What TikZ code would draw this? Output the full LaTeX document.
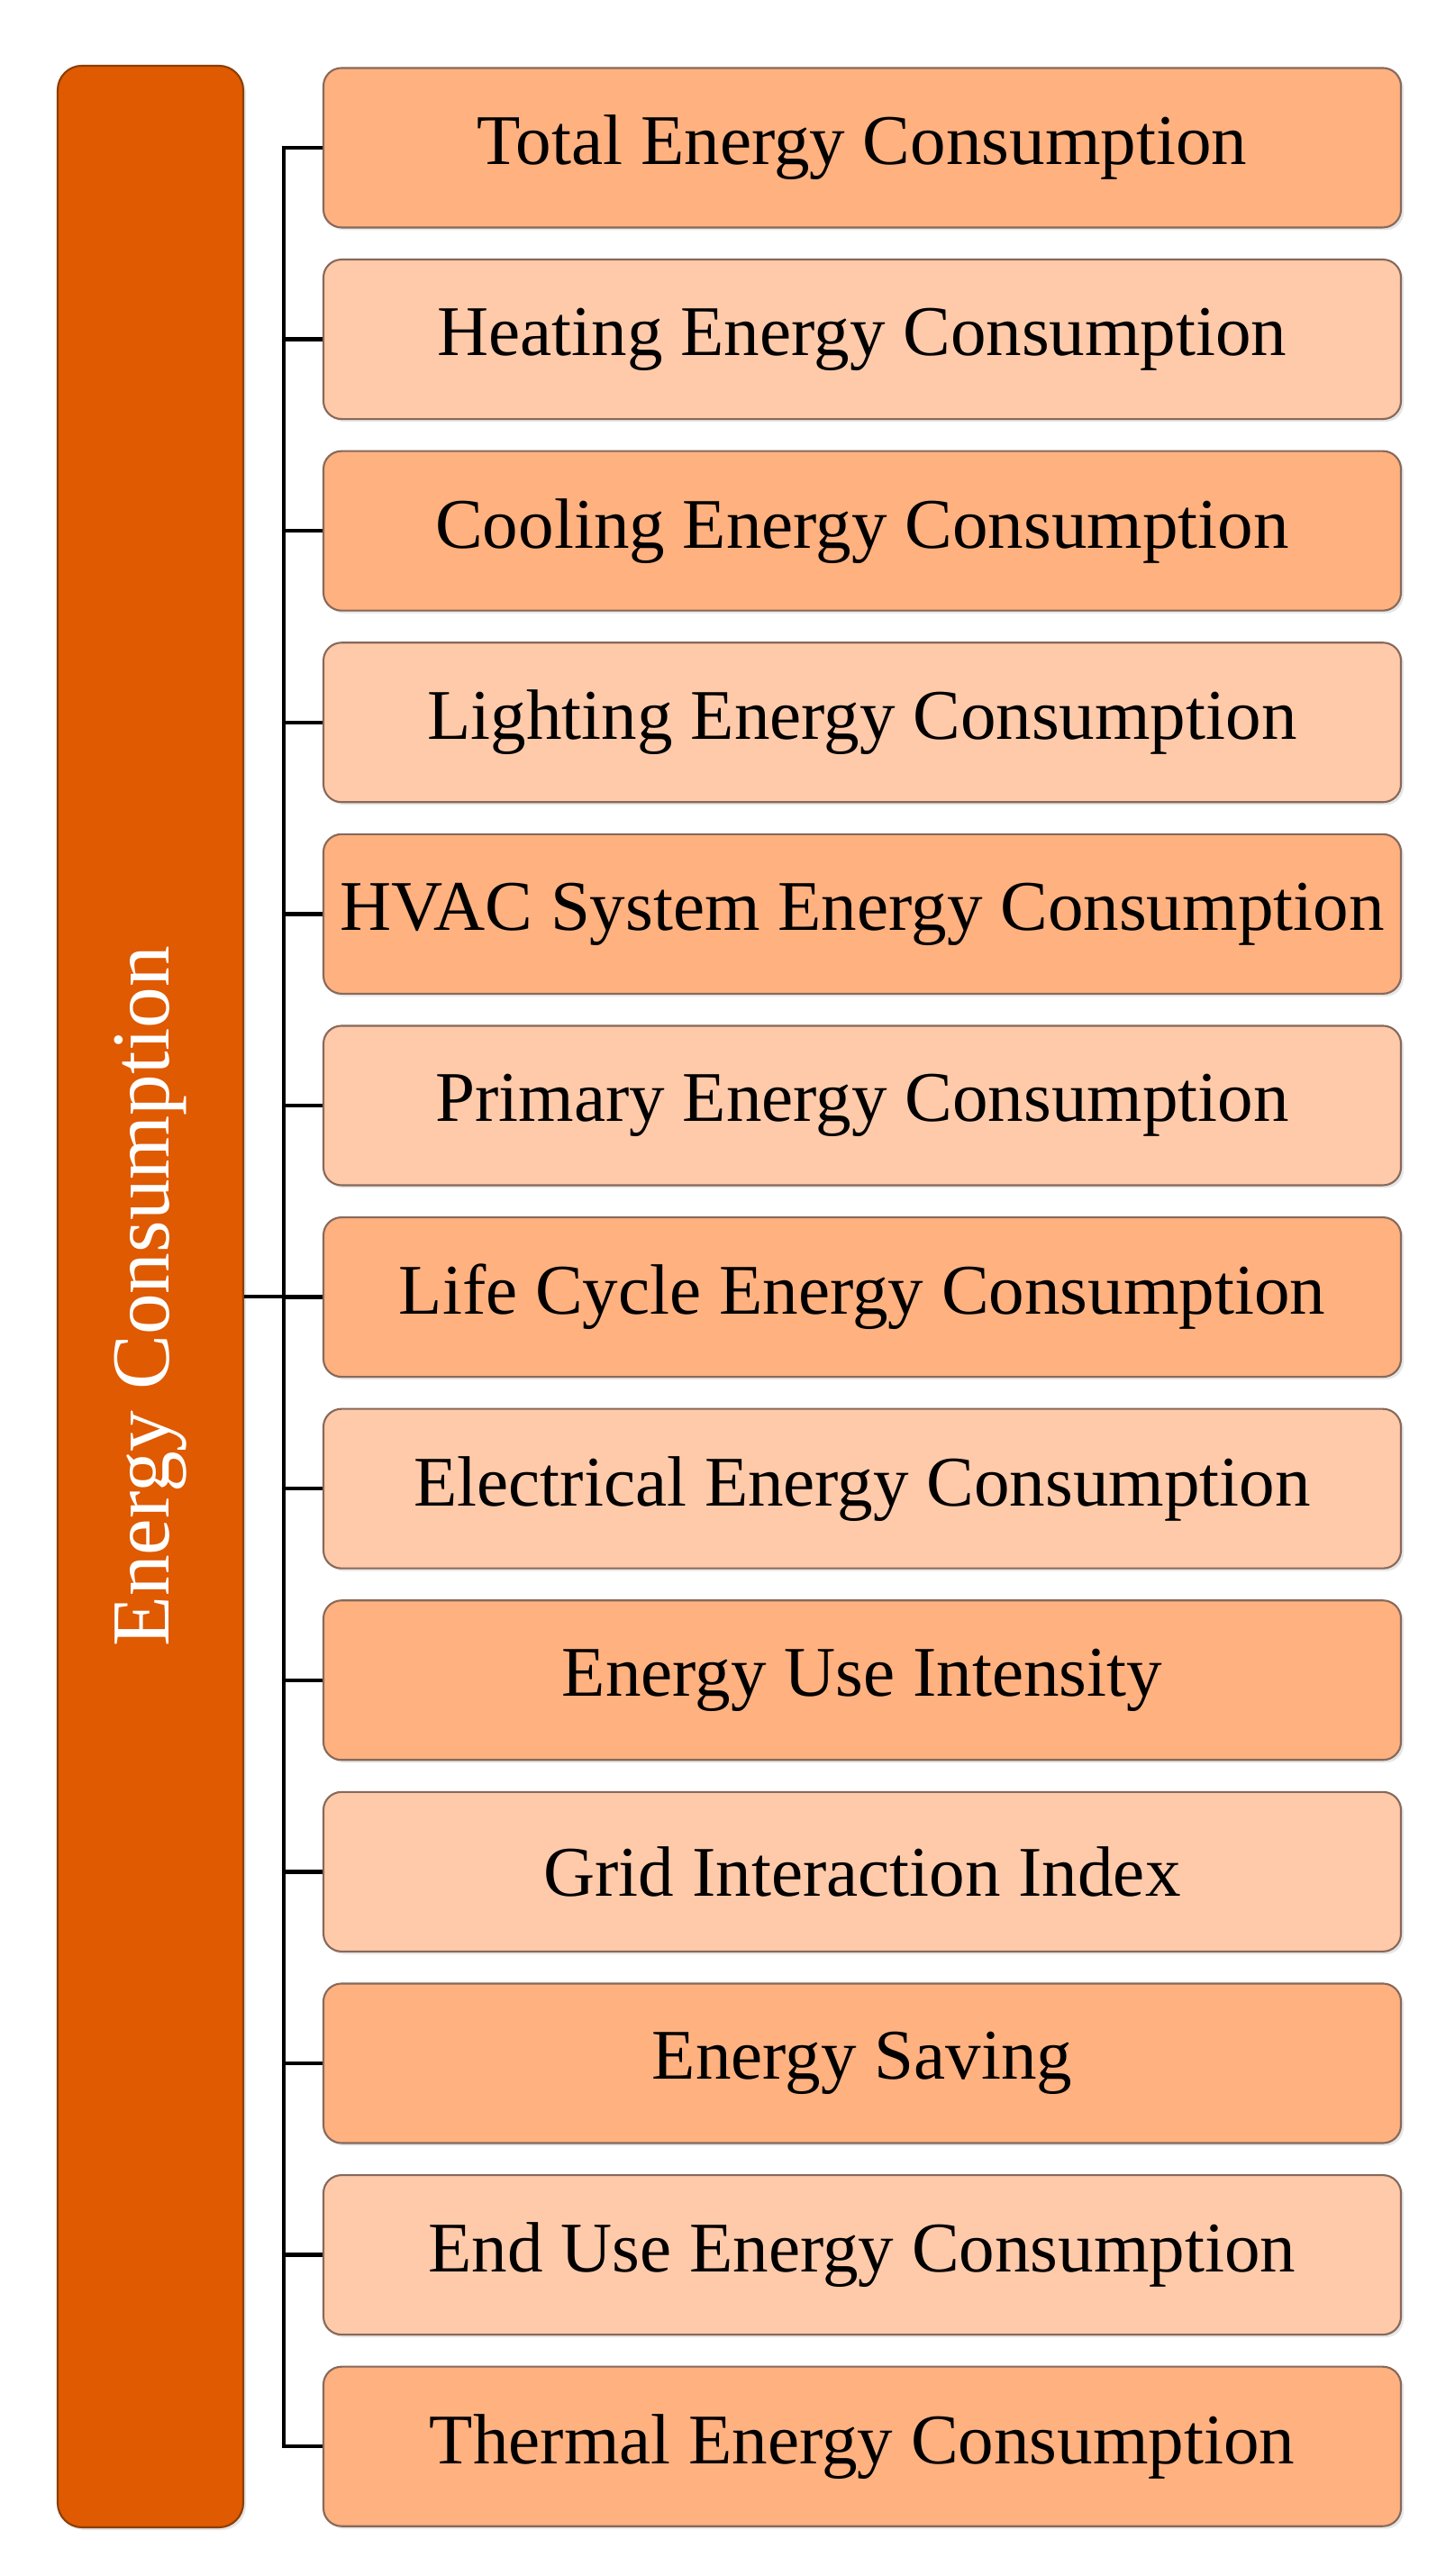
\documentclass[tikz,border=0pt]{standalone}
\usepackage{fontspec}
\setmainfont{Liberation Serif}
\usetikzlibrary{positioning,shadows}
\definecolor{rootfill}{RGB}{223,90,0}
\definecolor{rootline}{RGB}{140,62,10}
\definecolor{darkfill}{RGB}{255,177,128}
\definecolor{lightfill}{RGB}{255,202,170}
\definecolor{boxline}{RGB}{135,105,90}

\begin{document}
\begin{tikzpicture}[
		root/.style = {draw = rootline, fill = rootfill, line width = 0.6pt, rounded corners = 0.27cm,
			minimum width = 2.06cm, minimum height = 27.32cm, inner sep = 0pt,
			drop shadow = {opacity = 0.2, shadow xshift = 0.03cm, shadow yshift = -0.03cm}},
		leaf/.style = {draw = boxline, line width = 0.6pt, rounded corners = 0.2cm,
			minimum width = 11.96cm, minimum height = 1.77cm, inner sep = 0pt,
			font = \fontsize{22.5}{27}\selectfont,
			drop shadow = {opacity = 0.2, shadow xshift = 0.03cm, shadow yshift = -0.03cm}},
		dark/.style = {leaf, fill = darkfill},
		light/.style = {leaf, fill = lightfill},
		link/.style = {draw, line width = 1.25pt}]
		\useasboundingbox (0,0) rectangle (16.15,28.59);
		\node[root] (0) at (1.67, 14.20) {};
		\node[rotate = 90, text = white, font = \fontsize{26}{30}\selectfont] at (0) {Energy Consumption};
		\node[dark] (1) at (9.57, 26.95) {Total Energy Consumption};
		\node[light] (2) at (9.57, 24.824) {Heating Energy Consumption};
		\node[dark] (3) at (9.57, 22.698) {Cooling Energy Consumption};
		\node[light] (4) at (9.57, 20.572) {Lighting Energy Consumption};
		\node[dark] (5) at (9.57, 18.446) {HVAC System Energy Consumption};
		\node[light] (6) at (9.57, 16.32) {Primary Energy Consumption};
		\node[dark] (7) at (9.57, 14.194) {Life Cycle Energy Consumption};
		\node[light] (8) at (9.57, 12.068) {Electrical Energy Consumption};
		\node[dark] (9) at (9.57, 9.942) {Energy Use Intensity};
		\node[light] (10) at (9.57, 7.816) {Grid Interaction Index};
		\node[dark] (11) at (9.57, 5.69) {Energy Saving};
		\node[light] (12) at (9.57, 3.564) {End Use Energy Consumption};
		\node[dark] (13) at (9.57, 1.438) {Thermal Energy Consumption};
		\coordinate (trunk) at (3.15, 14.20);
		\draw[link] (0.east) -- (trunk);
		\draw[link] (trunk) |- (1.west);
		\draw[link] (trunk) |- (2.west);
		\draw[link] (trunk) |- (3.west);
		\draw[link] (trunk) |- (4.west);
		\draw[link] (trunk) |- (5.west);
		\draw[link] (trunk) |- (6.west);
		\draw[link] (trunk) |- (7.west);
		\draw[link] (trunk) |- (8.west);
		\draw[link] (trunk) |- (9.west);
		\draw[link] (trunk) |- (10.west);
		\draw[link] (trunk) |- (11.west);
		\draw[link] (trunk) |- (12.west);
		\draw[link] (trunk) |- (13.west);
	\end{tikzpicture}
\end{document}
